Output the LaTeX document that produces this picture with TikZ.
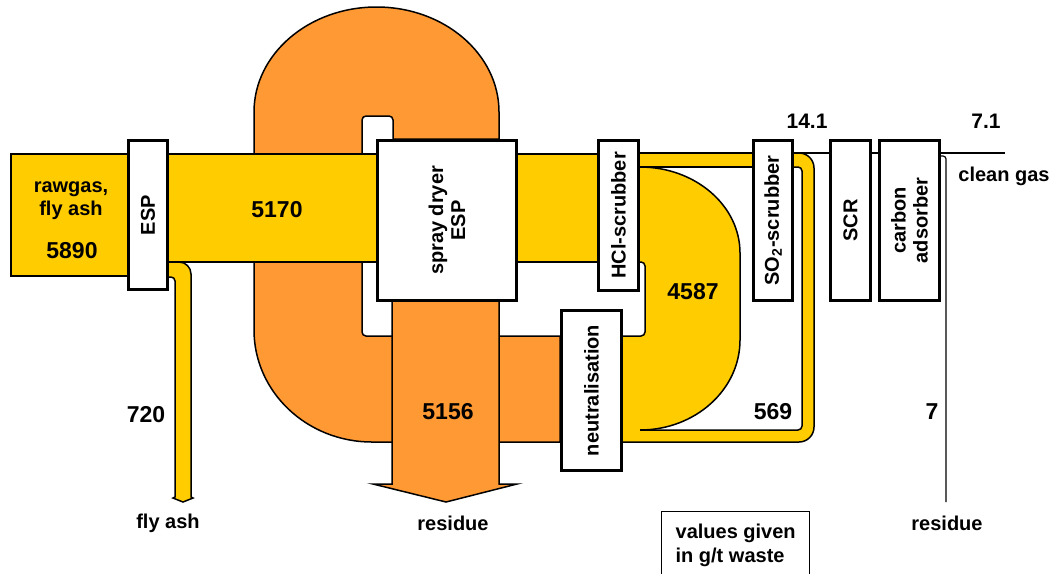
\documentclass[tikz,border=0pt]{standalone}
\usepackage{fontspec}
\setmainfont{Liberation Sans}
\usetikzlibrary{calc}
\definecolor{fyellow}{HTML}{FFCC00}
\definecolor{forange}{HTML}{FF9933}
\tikzset{
  every picture/.style={font=\bfseries\fontsize{10}{11.5}\selectfont},
  unit/.style={draw, fill=white, line width=1.6pt, rotate=90, inner sep=0pt, align=center,
               minimum width=80pt, font=\bfseries\fontsize{10}{11}\selectfont},
  flow/.style={fill=#1, draw=black, line width=0.75pt},
  edge/.style={draw=black, line width=0.75pt},
  gas/.style={draw=black, line width=0.7pt},
  num/.style={font=\bfseries\fontsize{11.5}{13}\selectfont},
  lab/.style={align=center},
}

\begin{document}
\begin{tikzpicture}[x=0.5pt, y=-0.5pt]
  \useasboundingbox (0,0) rectangle (1052,573);
  % recirculation loop
  \filldraw[flow=forange] (560,442) -- (372,442) arc[start angle=90, end angle=180, x radius=118, y radius=112]
    -- (254,112) arc[start angle=180, end angle=360, x radius=122.5, y radius=105] -- (499,139) -- (393,139)
    -- (393,120) arc[start angle=0, end angle=-90, radius=4] -- (366,116) arc[start angle=270, end angle=180, radius=4]
    -- (362,332) arc[start angle=180, end angle=90, radius=4] -- (560,336) -- cycle;
  \filldraw[flow=forange] (392,295) -- (392,484) -- (373,484) -- (446,502) -- (517,484) -- (499,484) -- (499,295) -- cycle;
  % gas path
  \filldraw[flow=fyellow] (11,154) rectangle (140,276);
  \filldraw[flow=fyellow] (160,154) rectangle (605,262);
  \filldraw[flow=fyellow] (160,262) -- (179,262) arc[start angle=270, end angle=360, radius=12] -- (191,497)
    -- (193,498) -- (183,502) -- (173,498) -- (175,497) -- (175,281) arc[start angle=0, end angle=-90, radius=4]
    -- (160,277) -- cycle;
  \filldraw[flow=fyellow] (630,153) rectangle (760,167);
  \fill[fyellow] (640,167) arc[start angle=270, end angle=360, x radius=100, y radius=86] -- (740,340)
    arc[start angle=0, end angle=90, x radius=100, y radius=90] -- (623,430) -- (623,336) -- (641,336)
    arc[start angle=90, end angle=0, radius=4] -- (645,266) arc[start angle=0, end angle=-90, radius=4] -- (640,262) -- cycle;
  \fill[fyellow] (794,153) -- (799,153) arc[start angle=270, end angle=360, radius=15] -- (814,427)
    arc[start angle=0, end angle=90, radius=15] -- (615,442) -- (615,430) -- (798,430)
    arc[start angle=90, end angle=0, radius=4] -- (802,171) arc[start angle=0, end angle=-90, radius=4] -- (794,167) -- cycle;
  \draw[edge] (640,167) arc[start angle=270, end angle=360, x radius=100, y radius=86] -- (740,340)
    arc[start angle=0, end angle=90, x radius=100, y radius=90];
  \draw[edge] (635,262) -- (641,262) arc[start angle=270, end angle=360, radius=4] -- (645,332)
    arc[start angle=0, end angle=90, radius=4] -- (615,336);
  \draw[edge] (794,153) -- (799,153) arc[start angle=270, end angle=360, radius=15] -- (814,427)
    arc[start angle=0, end angle=90, radius=15] -- (615,442);
  \draw[edge] (640,430) -- (798,430) arc[start angle=90, end angle=0, radius=4] -- (802,171)
    arc[start angle=0, end angle=-90, radius=4] -- (790,167);

  \node[unit, minimum width=74.5pt, minimum height=19.5pt] (esp) at (148,215) {ESP};
  \node[unit, minimum height=69.5pt] (spray) at (447,220.5) {spray dryer\\ESP};
  \node[unit, minimum width=75pt, minimum height=20pt] (hcl) at (618.5,215.5) {HCl-scrubber};
  \node[unit, minimum height=19.5pt] (so2) at (773,220.5) {SO\textsubscript{2}-scrubber};
  \node[unit, minimum height=20pt] (scr) at (850.5,220.5) {SCR};
  \node[unit, minimum height=30pt] (carbon) at (909.5,220.5) {carbon\\adsorber};
  \node[unit, minimum height=30pt] (neut) at (591.5,390.5) {neutralisation};

  \coordinate (gas) at (0,153);
  \coordinate (clean) at (1005,153);
  \coordinate (resend) at (946,502);
  \draw[gas] (so2.south |- gas) -- (scr.north |- gas);
  \draw[gas] (scr.south |- gas) -- (carbon.north |- gas);
  \draw[gas] (carbon.south |- gas) -- (clean);
  \draw[gas, line width=0.6pt] (carbon.south |- 0,156) -- (943,156) arc[start angle=270, end angle=360, radius=3] -- (resend);

  \node[lab] (rawgas) at (71,201) {rawgas,\\fly ash};
  \node[num] (n5890) at (72,251) {5890};
  \foreach \n/\x/\y/\v in {n5170/277/210/5170, n4587/693/292/4587, n5156/448/412/5156,
                           n569/773/412/569, n720/146/415/720, n7/932/412/7}
    \node[num] (\n) at (\x,\y) {\v};
  \node[num, font=\bfseries\fontsize{10.5}{12}\selectfont] (n141) at (807,121) {14.1};
  \node[num, font=\bfseries\fontsize{10.5}{12}\selectfont] (n71) at (986,121) {7.1};
  \node (flyash) at (168,523) {fly ash};
  \node (resleft) at (453,523) {residue};
  \node (resright) at (947,523) {residue};
  \node[anchor=west, inner xsep=0pt] (cleangas) at (958,176) {clean gas};
  \node[draw, line width=0.65pt, anchor=north west, minimum width=74pt, minimum height=34pt, align=left,
        font=\bfseries\fontsize{10}{12}\selectfont] (note) at (661,511) {values given\\in g/t waste};
\end{tikzpicture}
\end{document}
